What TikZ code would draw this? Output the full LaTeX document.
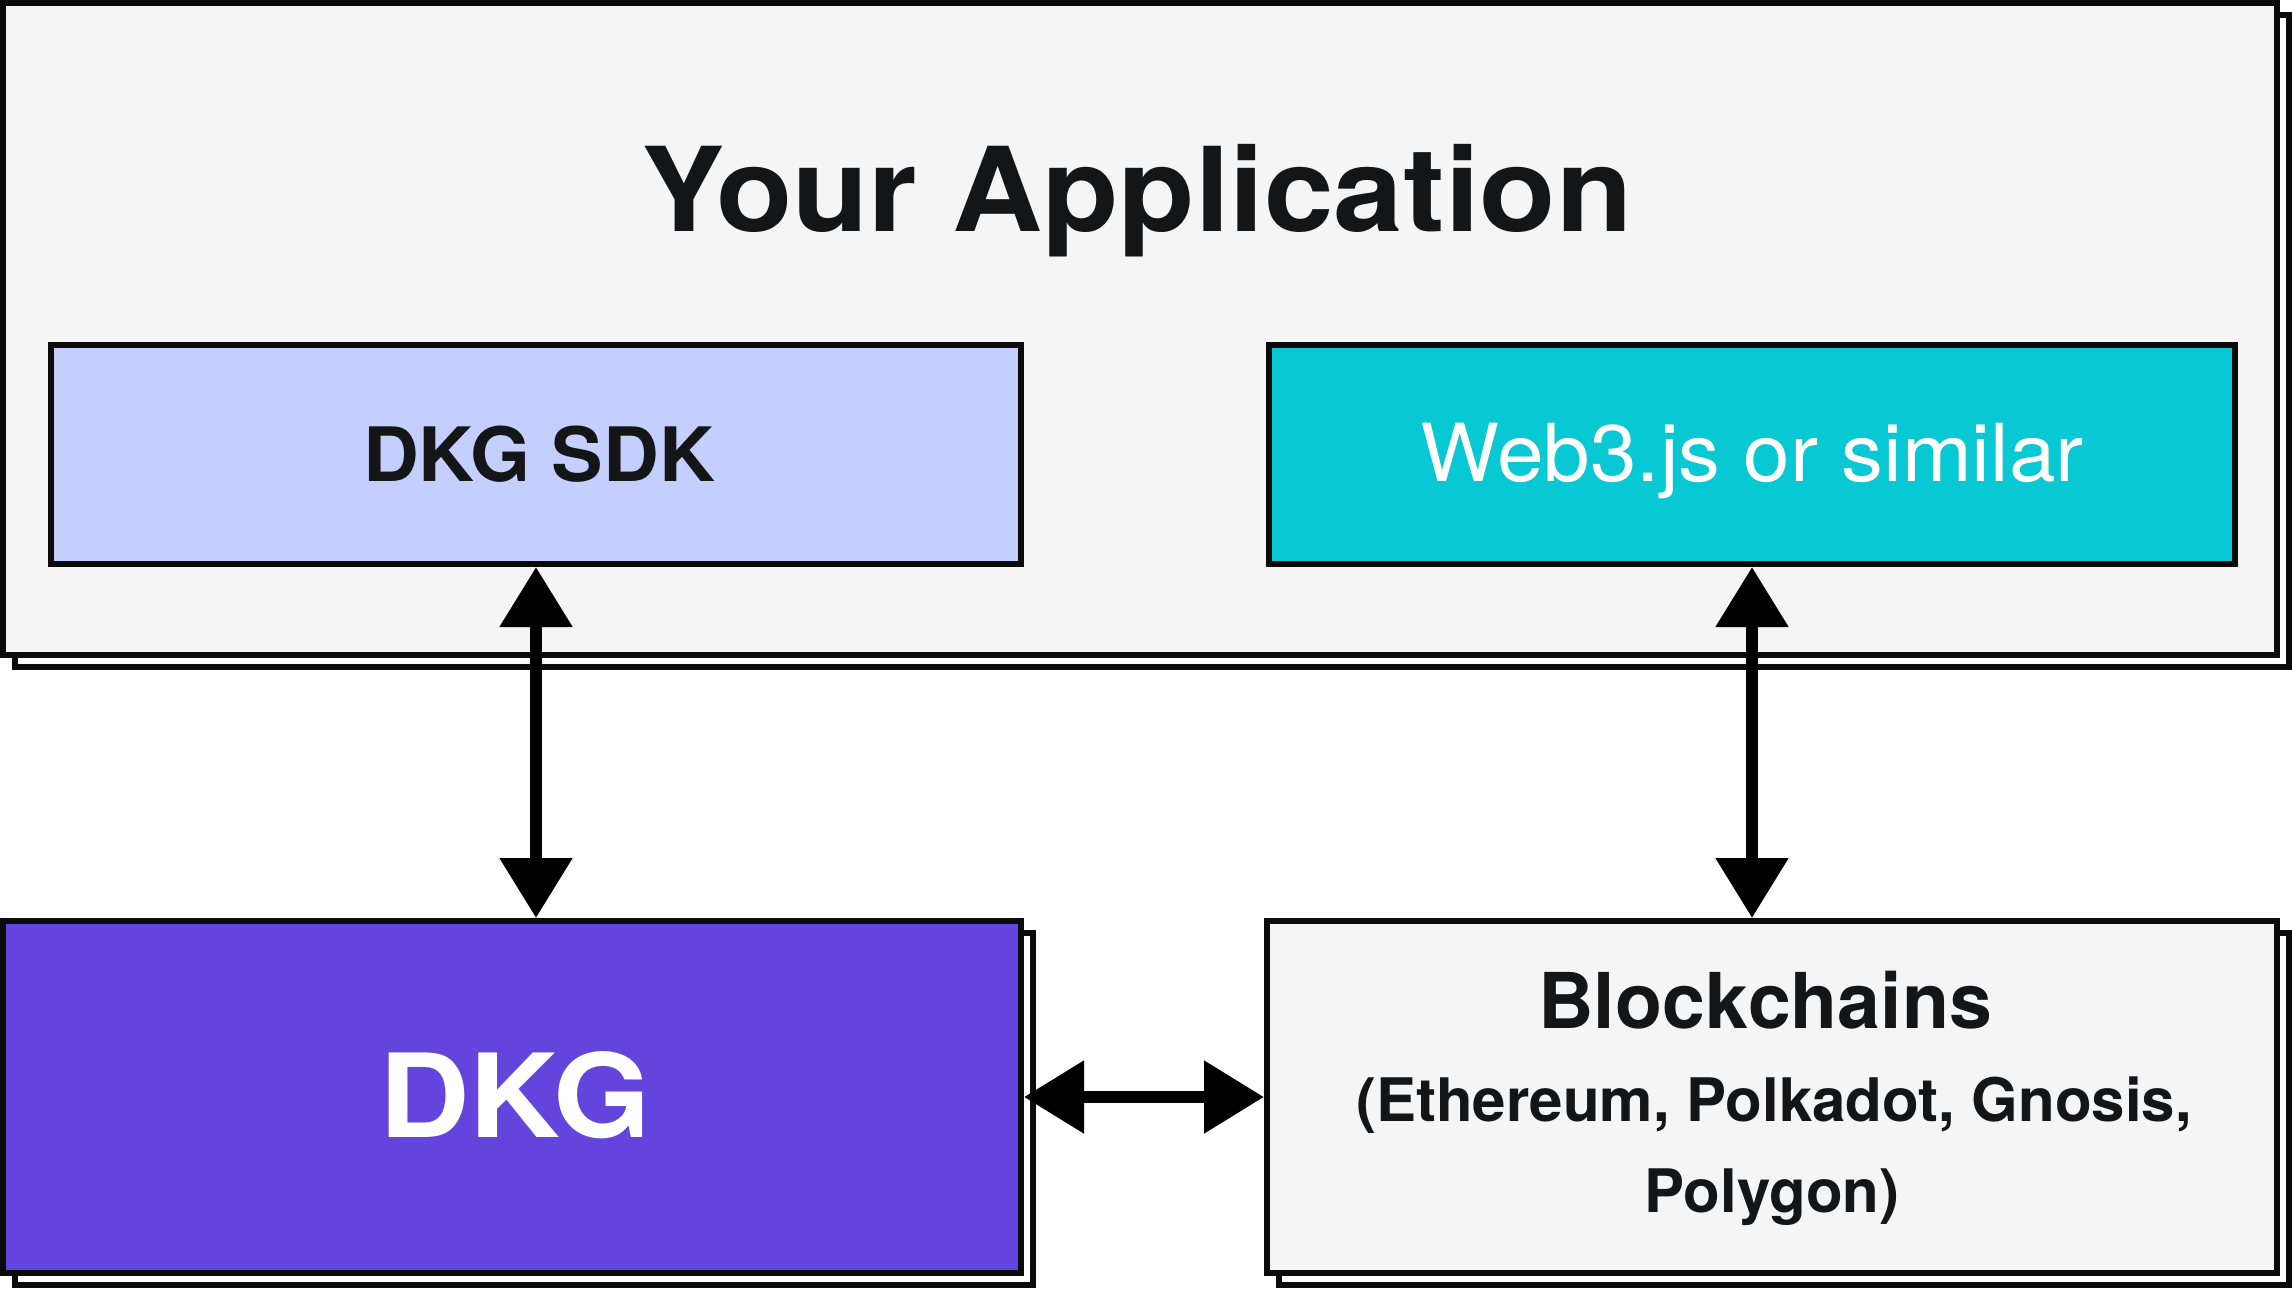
\documentclass[tikz,border=0pt]{standalone}
\usepackage{fontspec}
\setmainfont{TeX Gyre Heros}
\usetikzlibrary{arrows.meta}
\definecolor{ink}{HTML}{0B0B0B}
\definecolor{txt}{HTML}{141517}
\definecolor{appbg}{HTML}{F5F5F5}
\definecolor{sdkbg}{HTML}{C4CEFF}
\definecolor{webbg}{HTML}{08C8D4}
\definecolor{dkgbg}{HTML}{6345DD}
\begin{document}
\begin{tikzpicture}[x=1bp,y=-1bp,
  box/.style={draw=ink,line width=6bp,rectangle,inner sep=0pt},
  shadowbox/.style={draw=ink,line width=6bp,fill=white,rectangle,inner sep=0pt},
  lbl/.style={inner sep=0pt,anchor=base,text=txt},
  biarrow/.style={{Triangle[length=60bp,width=70bp]}-{Triangle[length=60bp,width=70bp]},line width=12bp,draw=black}]
\useasboundingbox[fill=white] (0,0) rectangle (2292,1288);
% application frame
\node[shadowbox,minimum width=2274bp,minimum height=652bp] (appshadow) at (1152,341) {};
\node[box,fill=appbg,minimum width=2274bp,minimum height=652bp] (app) at (1140,329) {};
\node[lbl] (apptitle) at (1137,231) {\fontsize{117bp}{140bp}\selectfont\bfseries\addfontfeatures{FakeStretch=1.068}Your Application};
% inner boxes
\node[box,fill=sdkbg,minimum width=970bp,minimum height=219bp] (sdk) at (536,454.5) {};
\node[lbl] (sdktext) at (539,481) {\fontsize{75bp}{90bp}\selectfont\bfseries\addfontfeatures{FakeStretch=1.03}DKG SDK};
\node[box,fill=webbg,minimum width=966bp,minimum height=219bp] (web) at (1752,454.5) {};
\node[lbl,text=white] (webtext) at (1752,481) {\fontsize{80bp}{96bp}\selectfont\addfontfeatures{FakeStretch=1.047}Web3.js or similar};
% DKG
\node[shadowbox,minimum width=1018bp,minimum height=352bp] (dkgshadow) at (524,1109) {};
\node[box,fill=dkgbg,minimum width=1018bp,minimum height=352bp] (dkg) at (512,1097) {};
\node[lbl,text=white] (dkgtext) at (515,1137) {\fontsize{116bp}{140bp}\selectfont\bfseries\addfontfeatures{FakeStretch=1.08}DKG};
% Blockchains
\node[shadowbox,minimum width=1010bp,minimum height=352bp] (chainshadow) at (1784,1109) {};
\node[box,fill=appbg,minimum width=1010bp,minimum height=352bp] (chain) at (1772,1097) {};
\node[lbl] (chaintitle) at (1765,1028) {\fontsize{77bp}{92bp}\selectfont\bfseries Blockchains};
\node[lbl] (chainline1) at (1774,1121) {\fontsize{60bp}{72bp}\selectfont\bfseries (Ethereum, Polkadot, Gnosis,};
\node[lbl] (chainline2) at (1772,1212) {\fontsize{60bp}{72bp}\selectfont\bfseries Polygon)};
% connectors
\draw[biarrow] (sdk.south) -- (sdk.south |- dkg.north);
\draw[biarrow] (web.south) -- (web.south |- chain.north);
\draw[biarrow] (dkg.east) -- (chain.west);
\end{tikzpicture}
\end{document}
